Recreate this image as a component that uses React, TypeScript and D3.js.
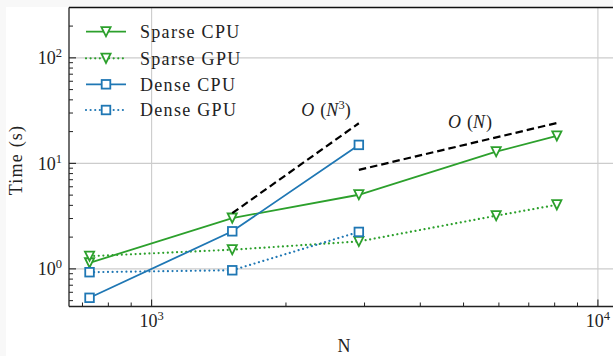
import React from 'react';
import * as d3 from 'd3';

// problem sizes
const nSparse = [726, 1516, 2913, 5916, 8090];
const nDense = [726, 1516, 2913];

// timings in seconds
const sparseCpu = [1.14, 3.03, 5.04, 12.9, 18.2];
const sparseGpu = [1.32, 1.52, 1.82, 3.19, 4.05];
const denseCpu = [0.532, 2.27, 14.96];
const denseGpu = [0.93, 0.97, 2.24];

// guide lines
const cubicN = [1516, 2913];
const cubicT = [3.37, 24];
const linearN = [2913, 8090];
const linearT = [8.68, 24.1];

const legendLabels = ['Sparse CPU', 'Sparse GPU', 'Dense CPU', 'Dense GPU'];
const xMajor = [1000, 10000];
const yMajor = [1, 10, 100];

const W = 613;
const H = 356;
const left = 69;
const right = 625;
const top = 7.5;
const bottom = 306.5;

const green = '#2ca02c';
const blue = '#1f77b4';
const font = '"Liberation Serif", serif';
const dots = '0.01 4.6';

const x = d3.scaleLog().domain([653, 11500]).range([left, right]);
const y = d3.scaleLog().domain([0.44, 300]).range([bottom, top]);

const line = d3
    .line<[number, number]>()
    .x(d => x(d[0]))
    .y(d => y(d[1]));

const zip = (a: number[], b: number[]): [number, number][] => a.map((v, i) => [v, b[i]]);

const minorTicks = (scale: d3.ScaleLogarithmic<number, number>) => {
    const [lo, hi] = scale.domain();
    const out: number[] = [];
    for (let e = Math.floor(Math.log10(lo)); e <= Math.ceil(Math.log10(hi)); e++) {
        for (let k = 2; k <= 9; k++) {
            const v = k * Math.pow(10, e);
            if (v > lo && v < hi) out.push(v);
        }
    }
    return out;
};

const Tri = ({ cx, cy, color }: { cx: number; cy: number; color: string }) => {
    const r = 4.6;
    return (
        <path
            d={`M${cx - r},${cy - r}L${cx + r},${cy - r}L${cx},${cy + r}Z`}
            fill="white"
            stroke={color}
            strokeWidth={1.8}
            strokeLinejoin="miter"
        />
    );
};

const Sq = ({ cx, cy, color }: { cx: number; cy: number; color: string }) => {
    const r = 4.3;
    return <rect x={cx - r} y={cy - r} width={2 * r} height={2 * r} fill="white" stroke={color} strokeWidth={1.8} />;
};

const Pow = ({ exp }: { exp: number }) => (
    <>
        10
        <tspan dy={-7} fontSize={12.5}>
            {exp}
        </tspan>
    </>
);

const series = [
    { n: nSparse, t: sparseCpu, color: green, dash: undefined, marker: 'tri' },
    { n: nSparse, t: sparseGpu, color: green, dash: dots, marker: 'tri' },
    { n: nDense, t: denseCpu, color: blue, dash: undefined, marker: 'sq' },
    { n: nDense, t: denseGpu, color: blue, dash: dots, marker: 'sq' },
];

const App = () => {
    const legendY = [31.7, 58.3, 84.3, 110];

    return (
        <div style={{ position: 'fixed', left: 0, top: 0 }}>
            <svg width={W} height={H} style={{ display: 'block' }} fontFamily={font}>
                <rect width={W} height={H} fill="#f8f8f8" />
                <rect x={6} y={7} width={W} height={H} fill="white" />

                {/* grid */}
                {xMajor.map(v => (
                    <line key={'gx' + v} x1={x(v)} x2={x(v)} y1={top} y2={bottom} stroke="#cccccc" strokeWidth={1.1} />
                ))}
                {yMajor.map(v => (
                    <line key={'gy' + v} x1={left} x2={right} y1={y(v)} y2={y(v)} stroke="#cccccc" strokeWidth={1.1} />
                ))}

                {/* ticks, pointing inward */}
                {xMajor.map(v => (
                    <line key={'tx' + v} x1={x(v)} x2={x(v)} y1={bottom} y2={bottom - 7} stroke="#222" strokeWidth={1.1} />
                ))}
                {minorTicks(x).map(v => (
                    <line key={'mx' + v} x1={x(v)} x2={x(v)} y1={bottom} y2={bottom - 4} stroke="#222" strokeWidth={1} />
                ))}
                {yMajor.map(v => (
                    <line key={'ty' + v} x1={left} x2={left + 7} y1={y(v)} y2={y(v)} stroke="#222" strokeWidth={1.1} />
                ))}
                {minorTicks(y).map(v => (
                    <line key={'my' + v} x1={left} x2={left + 4} y1={y(v)} y2={y(v)} stroke="#222" strokeWidth={1} />
                ))}

                {/* data */}
                {series.map((s, i) => (
                    <g key={'s' + i}>
                        <path
                            d={line(zip(s.n, s.t)) ?? ''}
                            fill="none"
                            stroke={s.color}
                            strokeWidth={s.dash ? 2.2 : 1.8}
                            strokeDasharray={s.dash}
                            strokeLinecap={s.dash ? 'round' : 'butt'}
                        />
                        {s.n.map((n, j) =>
                            s.marker === 'tri' ? (
                                <Tri key={j} cx={x(n)} cy={y(s.t[j])} color={s.color} />
                            ) : (
                                <Sq key={j} cx={x(n)} cy={y(s.t[j])} color={s.color} />
                            )
                        )}
                    </g>
                ))}

                {/* scaling guides */}
                <path d={line(zip(cubicN, cubicT)) ?? ''} fill="none" stroke="black" strokeWidth={2.2} strokeDasharray="7.5 4" />
                <path d={line(zip(linearN, linearT)) ?? ''} fill="none" stroke="black" strokeWidth={2.2} strokeDasharray="7.5 4" />
                <text x={326} y={116} fontSize={18} textAnchor="middle" fill="#222">
                    <tspan fontStyle="italic">O</tspan>
                    <tspan dx={6}>(</tspan>
                    <tspan fontStyle="italic">N</tspan>
                    <tspan dy={-7} fontSize={12.5}>3</tspan>
                    <tspan dy={7}>)</tspan>
                </text>
                <text x={470} y={128} fontSize={18} textAnchor="middle" fill="#222">
                    <tspan fontStyle="italic">O</tspan>
                    <tspan dx={6}>(</tspan>
                    <tspan fontStyle="italic">N</tspan>
                    <tspan dx={1}>)</tspan>
                </text>

                {/* spines */}
                <line x1={left} x2={left} y1={top} y2={bottom} stroke="#222" strokeWidth={1.3} />
                <line x1={left} x2={W} y1={bottom} y2={bottom} stroke="#222" strokeWidth={1.3} />
                <line x1={left} x2={W} y1={top} y2={top} stroke="#111" strokeWidth={1.5} />

                {/* tick labels */}
                {xMajor.map(v => (
                    <text key={'lx' + v} x={x(v)} y={327} fontSize={18} textAnchor="middle" fill="#222">
                        <Pow exp={Math.round(Math.log10(v))} />
                    </text>
                ))}
                {yMajor.map(v => (
                    <text key={'ly' + v} x={62} y={y(v) + 6.5} fontSize={18} textAnchor="end" fill="#222">
                        <Pow exp={Math.round(Math.log10(v))} />
                    </text>
                ))}

                {/* axis labels */}
                <text x={(left + 613) / 2 + 3} y={352} fontSize={18} textAnchor="middle" fill="#222">
                    N
                </text>
                <text
                    transform={`translate(22,${(top + bottom) / 2 + 3}) rotate(-90)`}
                    fontSize={18}
                    textAnchor="middle"
                    letterSpacing={1.2}
                    fill="#222"
                >
                    Time (s)
                </text>

                {/* legend */}
                {series.map((s, i) => (
                    <g key={'lg' + i}>
                        <line
                            x1={86}
                            x2={126}
                            y1={legendY[i]}
                            y2={legendY[i]}
                            stroke={s.color}
                            strokeWidth={s.dash ? 2.2 : 1.8}
                            strokeDasharray={s.dash}
                            strokeLinecap={s.dash ? 'round' : 'butt'}
                        />
                        {s.marker === 'tri' ? (
                            <Tri cx={106} cy={legendY[i]} color={s.color} />
                        ) : (
                            <Sq cx={106} cy={legendY[i]} color={s.color} />
                        )}
                        <text x={140} y={legendY[i] + 6.3} fontSize={18} letterSpacing={1.3} fill="#222">
                            {legendLabels[i]}
                        </text>
                    </g>
                ))}
            </svg>
        </div>
    );
};

export default App;
